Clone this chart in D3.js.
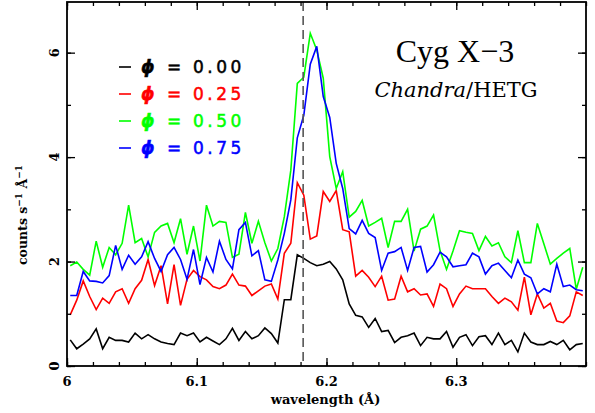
<!DOCTYPE html>
<html>
<head>
<meta charset="utf-8">
<script src="https://cdn.jsdelivr.net/npm/d3@7"></script>
<style>
  html, body { margin: 0; padding: 0; background: #fff; }
  svg { display: block; }
</style>
</head>
<body>
<svg id="chart" width="595" height="413"></svg>
<script>
// Si XIV Lyα region, binned at 0.005 Å, four orbital phases
const binStart = 6.0025;
const binWidth = 0.005;

const phase000 = [0.50,0.33,0.42,0.52,0.71,0.33,0.55,0.49,0.49,0.46,0.63,0.52,0.60,0.52,0.46,0.43,
  0.41,0.63,0.58,0.63,0.46,0.55,0.48,0.41,0.52,0.72,0.49,0.66,0.52,0.58,0.73,0.62,
  0.44,1.27,1.27,2.13,2.06,1.98,1.92,1.95,2.00,1.86,1.65,1.19,0.97,0.94,0.74,0.91,
  0.66,0.68,0.45,0.55,0.58,0.63,0.39,0.55,0.52,0.52,0.66,0.36,0.55,0.60,0.39,0.56,
  0.58,0.41,0.63,0.41,0.49,0.27,0.63,0.46,0.41,0.41,0.47,0.41,0.49,0.31,0.41,0.43];

const phase025 = [0.98,1.26,1.63,1.33,1.08,1.30,1.20,1.42,1.48,1.20,1.48,1.64,2.04,1.54,1.92,1.19,
  1.94,1.16,1.66,1.83,1.71,1.65,1.52,1.48,1.55,1.76,1.55,1.53,1.35,1.44,1.53,1.57,
  1.28,2.16,2.35,3.51,3.27,2.43,2.49,3.34,3.15,3.36,2.61,2.57,1.72,1.83,1.70,1.52,
  1.72,1.26,1.28,1.72,1.42,1.48,1.36,1.38,1.14,1.57,1.48,1.14,1.38,1.53,1.48,1.48,
  1.48,1.33,1.20,1.30,1.23,1.07,1.70,0.98,1.38,1.11,1.20,0.86,0.83,0.96,1.42,1.35];

const phase050 = [1.92,1.99,1.85,1.74,2.39,1.89,2.27,2.13,2.35,3.08,2.36,2.44,2.09,2.56,2.68,2.73,
  2.36,2.82,2.14,2.68,2.01,3.08,2.68,2.77,2.75,2.08,2.14,2.94,2.35,2.77,2.36,2.01,
  2.25,2.86,3.75,5.41,5.53,6.37,6.05,5.51,4.01,3.40,3.72,2.85,2.96,3.17,2.68,2.75,
  2.83,2.27,2.77,2.77,3.00,2.20,2.62,2.68,2.89,2.21,1.85,2.20,2.59,2.56,2.54,2.21,
  2.48,2.30,2.36,2.09,1.98,2.59,1.98,1.98,2.73,2.34,1.95,2.06,2.16,2.25,1.47,1.89];

const phase075 = [1.35,1.35,1.81,1.63,1.62,1.59,1.73,2.31,1.85,2.12,1.95,2.09,2.38,2.06,1.81,2.13,
  2.27,2.04,1.66,2.23,1.56,2.08,1.80,2.39,2.04,1.86,2.61,2.75,2.11,2.21,1.65,1.62,
  2.03,2.54,3.18,4.37,4.80,5.78,6.12,5.16,4.76,3.88,3.40,2.63,2.53,2.79,2.54,2.46,
  1.83,2.16,2.19,2.27,1.83,2.27,2.29,1.80,1.94,2.18,2.09,1.90,1.92,1.94,2.16,2.09,
  1.76,1.92,1.97,1.83,1.69,2.03,1.76,1.69,1.38,1.48,1.42,1.95,1.52,1.55,1.46,1.44];

const seriesNames = ["0.00", "0.25", "0.50", "0.75"];
const seriesColors = ["#000000", "#ff0000", "#00ff00", "#0000ff"];
const seriesValues = [phase000, phase025, phase050, phase075];

const lineRest = 6.182;          // Si XIV Lyα rest wavelength
const xTicks = [6.0, 6.1, 6.2, 6.3];
const xTickLabels = ["6", "6.1", "6.2", "6.3"];
const yTicks = [0, 2, 4, 6];

const svg = d3.select("#chart");
const plotLeft = 67, plotRight = 586, plotTop = 2, plotBottom = 366;

const x = d3.scaleLinear().domain([6.0, 6.4]).range([plotLeft, plotRight]);
const y = d3.scaleLinear().domain([0, 6.97]).range([plotBottom, plotTop]);

const labelFont = "'DejaVu Serif', serif";

// spectra
const line = d3.line()
  .x((d, i) => x(binStart + i * binWidth))
  .y(d => y(d));

seriesValues.forEach((vals, s) => {
  svg.append("path")
    .datum(vals)
    .attr("d", line)
    .attr("fill", "none")
    .attr("stroke", seriesColors[s])
    .attr("stroke-width", 1.6)
    .attr("stroke-linejoin", "miter");
});

// rest wavelength marker
svg.append("line")
  .attr("x1", x(lineRest)).attr("x2", x(lineRest))
  .attr("y1", plotTop).attr("y2", plotBottom)
  .attr("stroke", "#555")
  .attr("stroke-width", 1.6)
  .attr("stroke-dasharray", "9,5");

// axes: ticks drawn inward on all four sides
const minorX = d3.range(6.0, 6.4001, 0.02);
const minorY = d3.range(0, 6.97, 1);

function tickRow(axisFn, scale, values, size, transform) {
  svg.append("g")
    .attr("transform", transform)
    .call(axisFn(scale).tickValues(values).tickSize(-size).tickFormat(""))
    .call(g => g.select(".domain").remove());
}
tickRow(d3.axisBottom, x, minorX, 4, `translate(0,${plotBottom})`);
tickRow(d3.axisBottom, x, xTicks, 8, `translate(0,${plotBottom})`);
tickRow(d3.axisTop, x, minorX, 4, `translate(0,${plotTop})`);
tickRow(d3.axisTop, x, xTicks, 8, `translate(0,${plotTop})`);
tickRow(d3.axisLeft, y, minorY, 4, `translate(${plotLeft},0)`);
tickRow(d3.axisLeft, y, yTicks, 8, `translate(${plotLeft},0)`);
tickRow(d3.axisRight, y, minorY, 4, `translate(${plotRight},0)`);
tickRow(d3.axisRight, y, yTicks, 8, `translate(${plotRight},0)`);

svg.selectAll(".tick line").attr("stroke", "#000").attr("stroke-width", 1.3);

// frame
svg.append("rect")
  .attr("x", plotLeft).attr("y", plotTop)
  .attr("width", plotRight - plotLeft).attr("height", plotBottom - plotTop)
  .attr("fill", "none").attr("stroke", "#000").attr("stroke-width", 1.8);

// tick labels
svg.append("g").selectAll("text")
  .data(xTicks)
  .join("text")
  .attr("x", d => x(d))
  .attr("y", plotBottom + 20)
  .attr("text-anchor", "middle")
  .attr("font-family", labelFont)
  .attr("font-weight", "bold")
  .attr("font-size", 13)
  .text((d, i) => xTickLabels[i]);

svg.append("g").selectAll("text")
  .data(yTicks)
  .join("text")
  .attr("transform", d => `translate(${plotLeft - 8},${y(d)}) rotate(-90)`)
  .attr("text-anchor", "middle")
  .attr("font-family", labelFont)
  .attr("font-weight", "bold")
  .attr("font-size", 13)
  .text(d => d);

// axis titles
svg.append("text")
  .attr("x", (plotLeft + plotRight) / 2 - 1)
  .attr("y", 404)
  .attr("text-anchor", "middle")
  .attr("font-family", labelFont)
  .attr("font-weight", "bold")
  .attr("font-size", 13)
  .text("wavelength (Å)");

const yTitle = svg.append("text")
  .attr("transform", `translate(27,215) rotate(-90)`)
  .attr("text-anchor", "middle")
  .attr("font-family", labelFont)
  .attr("font-weight", "bold")
  .attr("font-size", 12.5);
yTitle.append("tspan").text("counts s");
yTitle.append("tspan").attr("dy", -5).attr("font-size", 9).text("−1");
yTitle.append("tspan").attr("dy", 5).text(" Å");
yTitle.append("tspan").attr("dy", -5).attr("font-size", 9).text("−1");

// legend
const legend = svg.append("g");
seriesNames.forEach((name, i) => {
  const ly = 67 + i * 27;
  legend.append("line")
    .attr("x1", 119).attr("x2", 131)
    .attr("y1", ly).attr("y2", ly)
    .attr("stroke", seriesColors[i]).attr("stroke-width", 1.6);
  const t = legend.append("text")
    .attr("x", 141).attr("y", ly + 6)
    .attr("fill", seriesColors[i])
    .attr("stroke", seriesColors[i])
    .attr("stroke-width", 0.5)
    .attr("font-family", "'DejaVu Sans', sans-serif")
    .attr("font-size", 17);
  t.append("tspan").attr("font-weight", "bold").attr("font-style", "italic").text("ϕ");
  t.append("tspan").attr("x", 167).text("=");
  t.append("tspan").attr("x", 193).attr("letter-spacing", 3.5).text(name);
});

// source label
svg.append("text")
  .attr("x", 455).attr("y", 62)
  .attr("text-anchor", "middle")
  .attr("font-family", "'Liberation Serif', serif")
  .attr("font-size", 32)
  .text("Cyg X−3");

const inst = svg.append("text")
  .attr("x", 456).attr("y", 97)
  .attr("text-anchor", "middle")
  .attr("font-family", "'DejaVu Serif', serif")
  .attr("font-size", 21);
inst.append("tspan").attr("font-style", "italic").text("Chandra");
inst.append("tspan").text("/HETG");
</script>
</body>
</html>
